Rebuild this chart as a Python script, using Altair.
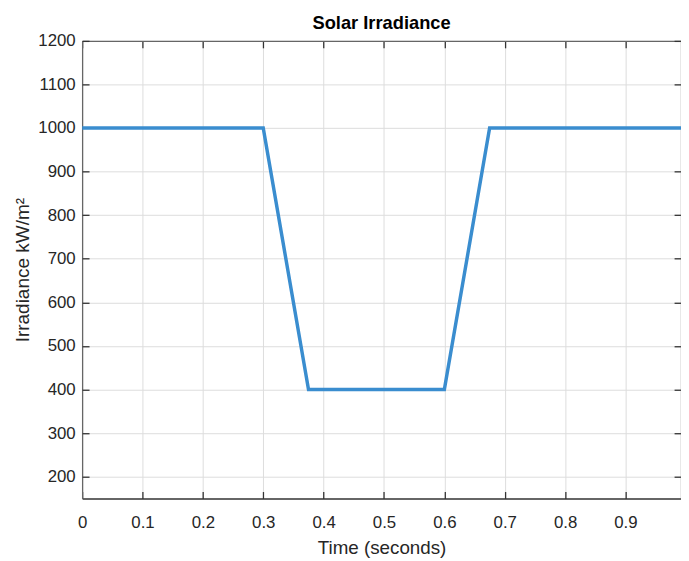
import altair as alt
import pandas as pd

# Data
time_s = [0.0, 0.3, 0.375, 0.6, 0.675, 1.0]
irradiance = [1000, 1000, 400, 400, 1000, 1000]
x_ticks = [0, 0.1, 0.2, 0.3, 0.4, 0.5, 0.6, 0.7, 0.8, 0.9]
y_ticks = [200, 300, 400, 500, 600, 700, 800, 900, 1000, 1100, 1200]

df = pd.DataFrame({"t": time_s, "irr": irradiance})

W, H = 606, 463
FONT = "Liberation Sans"
x_scale = alt.Scale(domain=[0, 0.992], nice=False, zero=False)
y_scale = alt.Scale(domain=[150, 1200], nice=False, zero=False)

base = alt.Chart(df)

line = base.mark_line(color="#3a8dcf", strokeWidth=3.5, clip=True).encode(
    x=alt.X("t:Q", scale=x_scale, axis=alt.Axis(
        orient="bottom", values=x_ticks, format="~g", title="Time (seconds)",
        grid=True, gridColor="#dcdcdc", gridWidth=1,
        ticks=False, tickSize=0, labelPadding=16, labelFlush=False,
        domain=True, domainColor="#333333", domainWidth=1.6,
        labelFont=FONT, labelFontSize=17, labelColor="#262626",
        titleFont=FONT, titleFontSize=19, titleFontWeight="normal",
        titleColor="#262626", titlePadding=9)),
    y=alt.Y("irr:Q", scale=y_scale, axis=alt.Axis(
        orient="left", values=y_ticks, format="d", title="Irradiance kW/m²",
        grid=True, gridColor="#dcdcdc", gridWidth=1,
        ticks=False, tickSize=0, labelPadding=7, labelFlush=False,
        domain=True, domainColor="#666666", domainWidth=1.3,
        labelFont=FONT, labelFontSize=17, labelColor="#262626",
        titleFont=FONT, titleFontSize=19.2, titleFontWeight="normal",
        titleColor="#262626", titlePadding=5)),
)

tick_style = dict(labels=False, title=None, grid=False, ticks=True, tickSize=7,
                  tickColor="#333333", tickWidth=1.3, minExtent=0, maxExtent=7)

# inward ticks on bottom and left edges
ticks_bl = base.mark_line(opacity=0).encode(
    x=alt.X("t:Q", scale=x_scale, axis=alt.Axis(
        orient="top", offset=-H, values=x_ticks, domain=False, **tick_style)),
    y=alt.Y("irr:Q", scale=y_scale, axis=alt.Axis(
        orient="right", offset=-W, values=y_ticks, domain=False, **tick_style)),
)

# inward ticks and frame on top and right edges
ticks_tr = base.mark_line(opacity=0).encode(
    x=alt.X("t:Q", scale=x_scale, axis=alt.Axis(
        orient="bottom", offset=-H, values=x_ticks, domain=True,
        domainColor="#666666", domainWidth=1.3, **tick_style)),
    y=alt.Y("irr:Q", scale=y_scale, axis=alt.Axis(
        orient="left", offset=-W, values=y_ticks, domain=True,
        domainColor="#666666", domainWidth=1.3, **tick_style)),
)

chart = alt.layer(line, ticks_bl, ticks_tr).resolve_axis(
    x="independent", y="independent"
).properties(
    width=W,
    height=H,
    title=alt.TitleParams(
        "Solar Irradiance", font=FONT, fontSize=18.5, fontWeight="bold",
        color="#000000", anchor="middle", baseline="alphabetic", frame="group",
        offset=-15),
    autosize=alt.AutoSizeParams(type="none"),
    padding={"left": 75, "top": 30, "right": 0, "bottom": 60},
).configure_view(stroke=None)

chart.save("out.html", embed_options={"renderer": "svg", "actions": False})
